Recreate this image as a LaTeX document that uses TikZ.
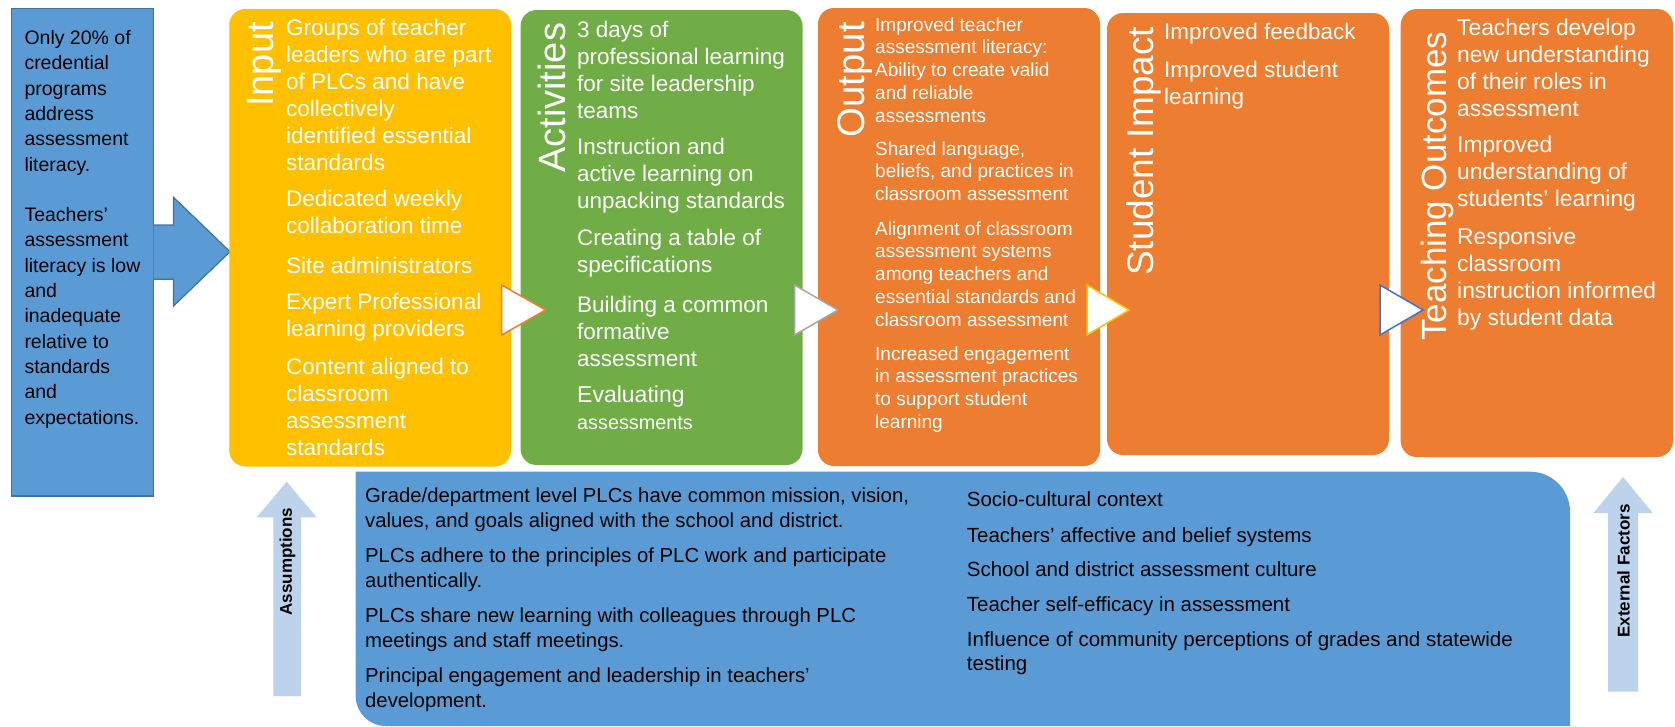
\documentclass[tikz,border=0pt]{standalone}
\usepackage{fontspec}
\setmainfont{Liberation Sans}
\definecolor{boxblue}{HTML}{5B9BD5}
\definecolor{edgeblue}{HTML}{41719C}
\definecolor{inyellow}{HTML}{FFC000}
\definecolor{actgreen}{HTML}{70AD47}
\definecolor{outorange}{HTML}{ED7D31}
\definecolor{paleblue}{HTML}{BDD3EC}
\definecolor{triblue}{HTML}{4472C4}
\definecolor{trigray}{HTML}{A5A5A5}
\newcommand\txtlines[1]{\parbox[t]{560pt}{\raggedright #1}}
\begin{document}
\begin{tikzpicture}[x=1pt,y=-1pt,
  stage/.style={fill=#1, draw=none, rounded corners=16pt},
  txt/.style={anchor=base west, inner sep=0pt, text=white},
  dark/.style={anchor=base west, inner sep=0pt, text=black},
  ttl/.style={anchor=base west, inner sep=0pt, text=white, rotate=90},
  fA/.style={font=\fontsize{22.5}{27}\selectfont},
  fB/.style={font=\fontsize{19}{22.8}\selectfont},
  fC/.style={font=\fontsize{20.3}{25}\selectfont},
  gate/.style={fill=white, line width=1.5pt, line join=miter},
  uparrow/.style={fill=paleblue, draw=none},
  sidelabel/.style={inner sep=0pt, rotate=90, text=black, font=\bfseries\fontsize{17}{20}\selectfont}
]
\useasboundingbox (0,0) rectangle (1675,726);
\fill[white] (0,0) rectangle (1675,726);

% problem statement box with its arrow
\draw[fill=boxblue, draw=edgeblue, line width=1.2pt] (11.7,8.3) rectangle (153.5,496);
\fill[boxblue] (153.5,225) -- (173.5,225) -- (173.5,197.3) -- (230,251.7)
  -- (173.5,306) -- (173.5,279.3) -- (153.5,279.3) -- cycle;
\draw[edgeblue, line width=1.2pt] (153.5,225) -- (173.5,225) -- (173.5,197.3) -- (230,251.7)
  -- (173.5,306) -- (173.5,279.3) -- (153.5,279.3);
\node[dark, font=\fontsize{19.5}{25.3}\selectfont] (need) at (24.3,44.5) {\txtlines{Only 20\% of\\credential\\programs\\address\\assessment\\literacy.\\[25.3pt]Teachers’\\assessment\\literacy is low\\and\\inadequate\\relative to\\standards\\and\\expectations.}};

% stage boxes
\path[stage=inyellow] (229.3,9) rectangle (511,466.5);
\path[stage=actgreen] (520.6,10) rectangle (802.5,465);
\path[stage=outorange] (818,8) rectangle (1100,466);
\path[stage=outorange] (1107,13) rectangle (1389,455);
\path[stage=outorange] (1400.7,9) rectangle (1673,457);

% flow markers between stages
\draw[gate, draw=outorange] (501.7,285) -- (545.6,310) -- (501.7,335) -- cycle;
\draw[gate, draw=trigray] (794.6,285) -- (838,310) -- (794.6,335) -- cycle;
\draw[gate, draw=inyellow] (1087,285) -- (1129,310) -- (1087,335) -- cycle;
\draw[gate, draw=triblue] (1380,285) -- (1423,310) -- (1380,335) -- cycle;

% stage titles
\node[ttl, font=\fontsize{38}{40}\selectfont] (tin) at (273,107) {Input};
\node[ttl, font=\fontsize{38}{40}\selectfont] (tact) at (565,173) {Activities};
\node[ttl, font=\fontsize{38.5}{40}\selectfont] (tout) at (864,138) {Output};
\node[ttl, font=\fontsize{37}{40}\selectfont] (timp) at (1153,276) {Student Impact};
\node[ttl, font=\fontsize{35}{40}\selectfont] (tteach) at (1446,341) {Teaching Outcomes};

% inputs
\node[txt, fA] (in1) at (286,35) {\txtlines{Groups of teacher\\leaders who are part\\of PLCs and have\\collectively\\identified essential\\standards}};
\node[txt, fA] (in2) at (286,206.7) {\txtlines{Dedicated weekly\\collaboration time}};
\node[txt, fA] (in3) at (286,273) {\txtlines{Site administrators}};
\node[txt, fA] (in4) at (286,309) {\txtlines{Expert Professional\\learning providers}};
\node[txt, fA] (in5) at (286,374) {\txtlines{Content aligned to\\classroom\\assessment\\standards}};

% activities
\node[txt, fA] (ac1) at (577,37) {\txtlines{3 days of\\professional learning\\for site leadership\\teams}};
\node[txt, fA] (ac2) at (577,154) {\txtlines{Instruction and\\active learning on\\unpacking standards}};
\node[txt, fA] (ac3) at (577,245) {\txtlines{Creating a table of\\specifications}};
\node[txt, fA] (ac4) at (577,312) {\txtlines{Building a common\\formative\\assessment}};
\node[txt, font=\fontsize{23}{27}\selectfont] (ac5) at (577,402) {\txtlines{Evaluating\\{\fontsize{19.8}{27}\selectfont assessments}}};

% outputs
\node[txt, fB] (ou1) at (875,31) {\txtlines{Improved teacher\\assessment literacy:\\Ability to create valid\\and reliable\\assessments}};
\node[txt, fB] (ou2) at (875,155) {\txtlines{Shared language,\\beliefs, and practices in\\classroom assessment}};
\node[txt, fB] (ou3) at (875,235) {\txtlines{Alignment of classroom\\assessment systems\\among teachers and\\essential standards and\\classroom assessment}};
\node[txt, fB] (ou4) at (875,360) {\txtlines{Increased engagement\\in assessment practices\\to support student\\learning}};

% student impact
\node[txt, fA] (st1) at (1164,39) {\txtlines{Improved feedback}};
\node[txt, fA] (st2) at (1164,77) {\txtlines{Improved student\\learning}};

% teaching outcomes
\node[txt, font=\fontsize{22.8}{27}\selectfont] (te1) at (1457,35) {\txtlines{Teachers develop\\new understanding\\of their roles in\\assessment}};
\node[txt, font=\fontsize{22.8}{27}\selectfont] (te2) at (1457,152) {\txtlines{Improved\\understanding of\\students’ learning}};
\node[txt, font=\fontsize{22.8}{27}\selectfont] (te3) at (1457,244) {\txtlines{Responsive\\classroom\\instruction informed\\by student data}};

% assumptions and external factors panel
\fill[boxblue] (355.7,471.7) -- (1530,471.7) .. controls (1552.1,471.7) and (1570,489.6) .. (1570,511.7)
  -- (1570,726) -- (385.7,726) .. controls (369.1,726) and (355.7,712.6) .. (355.7,696) -- cycle;

\node[dark, fC] (as1) at (365,502) {\txtlines{Grade/department level PLCs have common mission, vision,\\values, and goals aligned with the school and district.}};
\node[dark, fC] (as2) at (365,562.5) {\txtlines{PLCs adhere to the principles of PLC work and participate\\authentically.}};
\node[dark, fC] (as3) at (365,622.5) {\txtlines{PLCs share new learning with colleagues through PLC\\meetings and staff meetings.}};
\node[dark, fC] (as4) at (365,682.5) {\txtlines{Principal engagement and leadership in teachers’\\development.}};

\node[dark, font=\fontsize{20.5}{24.5}\selectfont] (ex1) at (966.7,506) {\txtlines{Socio-cultural context}};
\node[dark, font=\fontsize{20.5}{24.5}\selectfont] (ex2) at (966.7,542) {\txtlines{Teachers’ affective and belief systems}};
\node[dark, font=\fontsize{20.5}{24.5}\selectfont] (ex3) at (966.7,576) {\txtlines{School and district assessment culture}};
\node[dark, font=\fontsize{20.5}{24.5}\selectfont] (ex4) at (966.7,611) {\txtlines{Teacher self-efficacy in assessment}};
\node[dark, font=\fontsize{20.5}{24.5}\selectfont] (ex5) at (966.7,646) {\txtlines{Influence of community perceptions of grades and statewide\\testing}};

% side arrows
\fill[uparrow] (273.3,696) -- (273.3,517.3) -- (256.7,517.3) -- (286.7,481.7)
  -- (316.7,517.3) -- (301,517.3) -- (301,696) -- cycle;
\node[sidelabel] (lblA) at (287.5,561.7) {Assumptions};

\fill[uparrow] (1608,691.7) -- (1608,513) -- (1593.5,513) -- (1623,477)
  -- (1652.8,513) -- (1638,513) -- (1638,691.7) -- cycle;
\node[sidelabel] (lblE) at (1623.5,571) {External Factors};
\end{tikzpicture}
\end{document}
